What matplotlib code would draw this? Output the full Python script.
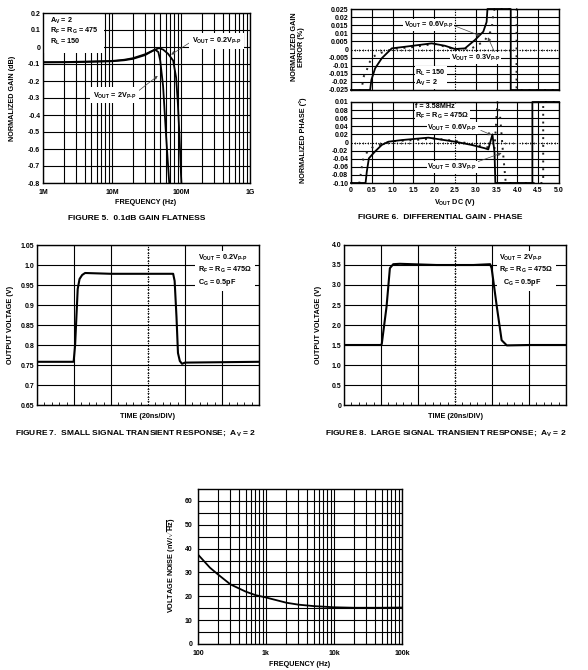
import numpy as np
import matplotlib
matplotlib.use("Agg")
import matplotlib.pyplot as plt
from matplotlib.ticker import FixedLocator, NullFormatter

plt.rcParams['font.family'] = ['Liberation Sans', 'DejaVu Sans']
plt.rcParams['font.weight'] = 'bold'
plt.rcParams['mathtext.fontset'] = 'custom'
plt.rcParams['mathtext.rm'] = 'Liberation Sans:bold'
plt.rcParams['mathtext.it'] = 'Liberation Sans:bold'
plt.rcParams['mathtext.bf'] = 'Liberation Sans:bold'
plt.rcParams['mathtext.sf'] = 'Liberation Sans:bold'

# ---------------- DATA ----------------
# Figure 5: gain flatness
f5_freq_small = [1e6, 2e6, 3e6, 5e6, 1e7, 1.5e7, 2e7, 3e7, 4e7, 4.8e7, 5.5e7, 6.5e7, 7.7e7, 8.5e7, 9e7, 9.5e7, 1.0e8, 1.02e8]
f5_gain_small = [-0.09, -0.09, -0.089, -0.087, -0.084, -0.078, -0.07, -0.048, -0.02, -0.006, -0.015, -0.04, -0.08, -0.18, -0.33, -0.52, -0.75, -0.82]
f5_freq_large = [1e6, 2e6, 3e6, 5e6, 1e7, 1.5e7, 2e7, 3e7, 4.2e7, 4.7e7, 5.0e7, 5.5e7, 6.1e7, 6.7e7, 6.9e7]
f5_gain_large = [-0.09, -0.089, -0.087, -0.085, -0.082, -0.075, -0.066, -0.043, -0.015, -0.03, -0.08, -0.23, -0.53, -0.78, -0.85]
f5_xticks = [1e6, 1e7, 1e8, 1e9]
f5_xlabels = ['1M', '10M', '100M', '1G']
f5_yticks = [0.2, 0.1, 0, -0.1, -0.2, -0.3, -0.4, -0.5, -0.6, -0.7, -0.8]
f5_ylabels = ['0.2', '0.1', '0', '-0.1', '-0.2', '-0.3', '-0.4', '-0.5', '-0.6', '-0.7', '-0.8']

# Figure 6: differential gain / phase
dg_v_06 = [0, 0.46, 0.49, 0.58, 0.74, 0.98, 1.3, 1.94, 2.26, 2.5, 2.74, 2.98, 3.18, 3.26, 3.28, 3.84, 3.84, 5.0]
dg_e_06 = [-0.025, -0.025, -0.0188, -0.0116, -0.0054, 0.0007, 0.0017, 0.0038, 0.0023, 0.0003, 0.0007, 0.0059, 0.011, 0.017, 0.025, 0.025, -0.025, -0.025]
dg_v_03 = [0, 0.24, 0.26, 0.3, 0.38, 0.43, 0.54, 0.66, 1.05, 1.5, 2.0, 2.5, 2.9, 3.2, 3.38, 3.42, 3.45, 3.98, 3.98, 5.0]
dg_e_03 = [-0.025, -0.025, -0.024, -0.017, -0.0127, -0.0085, -0.0044, -0.0025, 0.0005, 0.0015, 0.0035, 0.0002, 0.0007, 0.005, 0.012, 0.022, 0.025, 0.025, -0.025, -0.025]
dp_v_06 = [0, 0.35, 0.38, 0.43, 0.58, 0.74, 0.9, 1.22, 1.86, 2.5, 2.9, 3.21, 3.3, 3.4, 3.45, 3.47, 4.36, 4.36, 5.0]
dp_p_06 = [-0.1, -0.1, -0.072, -0.039, -0.022, -0.006, 0.002, 0.006, 0.012, 0.002, -0.006, -0.014, -0.017, 0.02, -0.025, -0.1, -0.1, 0.1, 0.1]
dp_v_03 = [0, 0.2, 0.22, 0.26, 0.3, 0.38, 0.5, 0.74, 1.0, 1.5, 2.0, 2.5, 2.9, 3.2, 3.45, 3.52, 3.58, 3.65, 3.72, 4.62, 4.62, 5.0]
dp_p_03 = [-0.1, -0.1, -0.088, -0.06, -0.04, -0.025, -0.013, -0.004, 0.003, 0.006, 0.01, 0.004, -0.004, -0.01, -0.015, 0.1, 0.07, -0.02, -0.1, -0.1, 0.1, 0.1]
dg_yticks = [0.025, 0.02, 0.015, 0.01, 0.005, 0, -0.005, -0.01, -0.015, -0.02, -0.025]
dg_ylabels = ['0.025', '0.02', '0.015', '0.01', '0.005', '0', '-0.005', '-0.01', '-0.015', '-0.02', '-0.025']
dp_yticks = [0.1, 0.08, 0.06, 0.04, 0.02, 0, -0.02, -0.04, -0.06, -0.08, -0.1]
dp_ylabels = ['0.01', '0.08', '0.06', '0.04', '0.02', '0', '-0.02', '-0.04', '-0.06', '-0.08', '-0.10']
d_xticks = [0, 0.5, 1.0, 1.5, 2.0, 2.5, 3.0, 3.5, 4.0, 4.5, 5.0]
d_xlabels = ['0', '0.5', '1.0', '1.5', '2.0', '2.5', '3.0', '3.5', '4.0', '4.5', '5.0']

# Figure 7: small signal transient (time in divisions of 20ns)
ss_t = [0, 0.99, 1.03, 1.06, 1.1, 1.15, 1.22, 1.3, 2.0, 3.0, 3.68, 3.72, 3.77, 3.81, 3.86, 3.92, 4.0, 5.0, 6.0]
ss_v = [0.758, 0.758, 0.8, 0.86, 0.94, 0.965, 0.975, 0.98, 0.978, 0.978, 0.978, 0.96, 0.87, 0.78, 0.76, 0.753, 0.756, 0.757, 0.758]
ss_yticks = [1.05, 1.0, 0.95, 0.9, 0.85, 0.8, 0.75, 0.7, 0.65]
ss_ylabels = ['1.05', '1.0', '0.95', '0.9', '0.85', '0.8', '0.75', '0.7', '0.65']

# Figure 8: large signal transient
ls_t = [0, 0.99, 1.02, 1.15, 1.24, 1.33, 1.51, 2.5, 3.5, 3.95, 3.99, 4.13, 4.26, 4.4, 5.0, 6.0]
ls_v = [1.5, 1.5, 1.52, 2.46, 3.42, 3.52, 3.53, 3.5, 3.5, 3.52, 3.42, 2.46, 1.62, 1.49, 1.5, 1.5]
ls_yticks = [4.0, 3.5, 3.0, 2.5, 2.0, 1.5, 1.0, 0.5, 0]
ls_ylabels = ['4.0', '3.5', '3.0', '2.5', '2.0', '1.5', '1.0', '0.5', '0']

# Figure 9: voltage noise
vn_freq = [100, 150, 200, 300, 500, 700, 1000, 2000, 3000, 5000, 10000, 20000, 50000, 100000]
vn_val = [37.5, 32, 29, 25, 22, 20.5, 19.5, 17.3, 16.5, 15.9, 15.4, 15.2, 15.2, 15.3]
vn_xticks = [100, 1000, 10000, 100000]
vn_xlabels = ['100', '1k', '10k', '100k']
vn_yticks = [0, 10, 20, 30, 40, 50, 60]

# ---------------- FIGURE ----------------
W, H = 588, 670
fig = plt.figure(figsize=(W / 100, H / 100), dpi=100)
TFS = 5.0   # tick font size
LFS = 5.2   # axis label font size
CFS = 6.0   # caption font size
AFS = 5.2   # annotation font size
GLW = 0.8
CLW = 1.3


def ax_at(l, t, r, b):
    return fig.add_axes([l / W, 1 - b / H, (r - l) / W, (b - t) / H])


def ftext(x, y, s, **kw):
    kw.setdefault('fontsize', LFS)
    kw.setdefault('fontweight', 'bold')
    fig.text(x / W, 1 - y / H, s, **kw)


def style(ax, xpad=2):
    for sp in ax.spines.values():
        sp.set_linewidth(1.0)
    ax.tick_params(axis='both', which='both', length=0, labelsize=TFS, pad=2)
    ax.tick_params(axis='x', pad=xpad)
    for lab in ax.get_xticklabels() + ax.get_yticklabels():
        lab.set_fontweight('bold')


def vs(main, sub):
    return main + r'$_{\rm ' + sub + '}$'


VPP = r'V$_{\rm P\text{-}P}$'
VOUT = vs('V', 'OUT')
box = dict(facecolor='white', edgecolor='none', pad=0.6)
arrow = dict(arrowstyle='-|>', lw=0.5, color='#444444', mutation_scale=5, shrinkA=0, shrinkB=0)

# ---- Figure 5 ----
ax5 = ax_at(43, 13, 250, 183)
ax5.set_xscale('log')
ax5.set_xlim(1e6, 1e9)
ax5.set_ylim(-0.8, 0.2)
ax5.set_xticks(f5_xticks, f5_xlabels)
minors = [m * d for d in [1e6, 1e7, 1e8] for m in range(2, 10)]
ax5.xaxis.set_minor_locator(FixedLocator(minors))
ax5.xaxis.set_minor_formatter(NullFormatter())
ax5.set_yticks(f5_yticks, f5_ylabels)
ax5.grid(True, which='both', color='black', lw=GLW)
ax5.set_axisbelow(True)
ax5.plot(f5_freq_small, f5_gain_small, color='black', lw=CLW)
ax5.plot(f5_freq_large, f5_gain_large, color='black', lw=CLW)
style(ax5, xpad=4)
ax5.text(1.25e6, 0.185, vs('A', 'V') + ' = 2\n' + vs('R', 'F') + ' = ' + vs('R', 'G') + ' = 475\n' + vs('R', 'L') + ' = 150',
         fontsize=AFS, fontweight='bold', va='top', ha='left', linespacing=1.05, zorder=2.2,
         bbox=dict(facecolor='white', edgecolor='none', boxstyle='square,pad=0.8'))
ax5.annotate('', xy=(7.2e7, -0.045), xytext=(1.45e8, 0.035), arrowprops=arrow)
ax5.text(1.45e8, 0.038, VOUT + ' = 0.2' + VPP, fontsize=AFS, fontweight='bold', ha='left', va='center',
         bbox=dict(facecolor='white', edgecolor='none', boxstyle='square,pad=0.4'))
ax5.annotate('', xy=(4.6e7, -0.17), xytext=(2.3e7, -0.265), arrowprops=arrow)
ax5.text(1.1e7, -0.285, VOUT + ' = 2' + VPP, fontsize=AFS, fontweight='bold', ha='center', va='center',
         bbox=dict(facecolor='white', edgecolor='none', boxstyle='square,pad=0.4'))
ftext(146, 203, 'FREQUENCY (Hz)', ha='center', va='center')
ftext(13, 98, 'NORMALIZED GAIN (dB)', ha='center', va='center', rotation=90)
ftext(137, 219, 'FIGURE 5.  0.1dB GAIN FLATNESS', ha='center', va='center', fontsize=CFS)

# ---- Figure 6 ----
ax6a = ax_at(351, 9, 559, 90)
ax6b = ax_at(351, 102, 559, 183)
for ax, yt, yl, lim in [(ax6a, dg_yticks, dg_ylabels, 0.025), (ax6b, dp_yticks, dp_ylabels, 0.1)]:
    ax.set_xlim(0, 5)
    ax.set_ylim(-lim, lim)
    ax.set_yticks(yt, yl)
    ax.set_xticks(d_xticks, d_xlabels)
    ax.grid(True, color='black', lw=GLW)
    ax.set_axisbelow(True)
    style(ax, xpad=3)
ax6a.tick_params(labelbottom=False)
# dotted centre lines
for ax, lim in [(ax6a, 0.025), (ax6b, 0.1)]:
    for gl in ax.get_xgridlines():
        if abs(gl.get_xdata()[0] - 2.5) < 1e-6:
            gl.set_linestyle((0, (1.2, 1.2)))
    for gl in ax.get_ygridlines():
        if abs(gl.get_ydata()[0]) < 1e-9:
            gl.set_linestyle((0, (1.2, 1.2)))
    ax.plot([2.5] * 11, np.linspace(-lim, lim, 11), ls='none', marker='_', ms=2, mew=0.6, color='black')
    ax.plot(np.linspace(0, 5, 51), [0] * 51, ls='none', marker='|', ms=1.6, mew=0.5, color='black')

ax6a.plot(dg_v_03, dg_e_03, color='#222222', lw=1.4, ls=(0, (1, 3)), clip_on=False)
ax6a.plot(dg_v_06, dg_e_06, color='black', lw=CLW, clip_on=False)
ax6b.plot(dp_v_03, dp_p_03, color='#222222', lw=1.4, ls=(0, (1, 3)), clip_on=False)
ax6b.plot(dp_v_06, dp_p_06, color='black', lw=CLW, clip_on=False)

ax6a.annotate('', xy=(3.1, 0.0085), xytext=(2.5, 0.0145), arrowprops=arrow)
ax6a.text(2.46, 0.0152, VOUT + ' = 0.6' + VPP, fontsize=AFS, fontweight='bold', ha='right', va='center', bbox=box)
ax6a.annotate('', xy=(3.29, 0.0075), xytext=(3.45, -0.0015), arrowprops=arrow)
ax6a.text(3.0, -0.0052, VOUT + ' = 0.3' + VPP, fontsize=AFS, fontweight='bold', ha='center', va='center', bbox=box)
ax6a.text(1.55, -0.0175, vs('R', 'L') + ' = 150\n' + vs('A', 'V') + ' = 2', fontsize=AFS, fontweight='bold',
          ha='left', va='center', linespacing=1.1, bbox=box)
ax6b.text(1.55, 0.075, 'f = 3.58MHz\n' + vs('R', 'F') + ' = ' + vs('R', 'G') + ' = 475Ω', fontsize=AFS, fontweight='bold',
          ha='left', va='center', linespacing=1.1, bbox=box)
ax6b.annotate('', xy=(3.38, 0.0185), xytext=(3.12, 0.03), arrowprops=arrow)
ax6b.text(2.43, 0.036, VOUT + ' = 0.6' + VPP, fontsize=AFS, fontweight='bold', ha='center', va='center', bbox=box)
ax6b.annotate('', xy=(3.62, -0.026), xytext=(2.98, -0.05), arrowprops=arrow)
ax6b.text(2.43, -0.06, VOUT + ' = 0.3' + VPP, fontsize=AFS, fontweight='bold', ha='center', va='center', bbox=box)
ftext(455, 202, VOUT + ' DC (V)', ha='center', va='center')
ftext(298, 47, 'NORMALIZED GAIN\nERROR (%)', ha='center', va='center', rotation=90, linespacing=1.0)
ftext(303, 140, 'NORMALIZED PHASE (°)', ha='center', va='center', rotation=90)
ftext(440, 218, 'FIGURE 6.  DIFFERENTIAL GAIN - PHASE', ha='center', va='center', fontsize=CFS)


# ---- Figures 7 & 8 ----
def transient(ax, t, v, ylim, yt, yl):
    ax.set_xlim(0, 6)
    ax.set_ylim(*ylim)
    ax.set_yticks(yt, yl)
    ax.set_xticks(range(7), [''] * 7)
    ax.xaxis.set_minor_locator(FixedLocator(np.arange(0, 6.01, 0.2)))
    ax.grid(True, which='major', color='black', lw=GLW)
    ax.set_axisbelow(True)
    for gl in ax.get_xgridlines():
        if abs(gl.get_xdata()[0] - 3) < 1e-6:
            gl.set_linestyle((0, (1.2, 1.2)))
    ax.plot([3] * 41, np.linspace(ylim[0], ylim[1], 41), ls='none', marker='_', ms=1.8, mew=0.5, color='black')
    ax.plot(t, v, color='black', lw=1.5)
    style(ax)
    ax.tick_params(axis='x', which='minor', length=2, width=0.6, direction='in')


ax7 = ax_at(37, 245, 259, 405)
transient(ax7, ss_t, ss_v, (0.65, 1.05), ss_yticks, ss_ylabels)
ax7.text(4.35, 1.03, VOUT + ' = 0.2' + VPP + '\n' + vs('R', 'F') + ' = ' + vs('R', 'G') + ' = 475Ω\n' + vs('C', 'G') + ' = 0.5pF',
         fontsize=AFS, fontweight='bold', ha='left', va='top', linespacing=1.25,
         bbox=dict(facecolor='white', edgecolor='none', pad=2))
ftext(148, 416, 'TIME (20ns/DIV)', ha='center', va='center')
ftext(11, 325, 'OUTPUT VOLTAGE (V)', ha='center', va='center', rotation=90)
ftext(136, 433, 'FIGURE 7.  SMALL SIGNAL TRANSIENT RESPONSE;  ' + vs('A', 'V') + ' = 2',
      ha='center', va='center', fontsize=CFS)

ax8 = ax_at(344, 245, 566, 405)
transient(ax8, ls_t, ls_v, (0, 4.0), ls_yticks, ls_ylabels)
ax8.text(4.2, 3.8, VOUT + ' = 2' + VPP + '\n' + vs('R', 'F') + ' = ' + vs('R', 'G') + ' = 475Ω\n  ' + vs('C', 'G') + ' = 0.5pF',
         fontsize=AFS, fontweight='bold', ha='left', va='top', linespacing=1.25,
         bbox=dict(facecolor='white', edgecolor='none', pad=2))
ftext(455, 416, 'TIME (20ns/DIV)', ha='center', va='center')
ftext(318, 325, 'OUTPUT VOLTAGE (V)', ha='center', va='center', rotation=90)
ftext(446, 433, 'FIGURE 8.  LARGE SIGNAL TRANSIENT RESPONSE;  ' + vs('A', 'V') + ' = 2',
      ha='center', va='center', fontsize=CFS)

# ---- Figure 9 ----
ax9 = ax_at(198, 489, 402, 644)
ax9.set_xscale('log')
ax9.set_xlim(100, 100000)
ax9.set_ylim(0, 65)
ax9.set_xticks(vn_xticks, vn_xlabels)
ax9.xaxis.set_minor_locator(FixedLocator([m * d for d in [100, 1000, 10000] for m in range(2, 10)]))
ax9.xaxis.set_minor_formatter(NullFormatter())
ax9.set_yticks(vn_yticks)
ax9.yaxis.set_minor_locator(FixedLocator(np.arange(5, 65, 10)))
ax9.grid(True, which='both', color='black', lw=GLW)
ax9.set_axisbelow(True)
ax9.plot(vn_freq, vn_val, color='black', lw=CLW)
style(ax9, xpad=4)
ax9.tick_params(axis='y', pad=4)
ftext(300, 665, 'FREQUENCY (Hz)', ha='center', va='center')
ftext(172, 565, r'VOLTAGE NOISE (nV/$\sqrt{\rm Hz}$)', ha='center', va='center', rotation=90)

fig.savefig('out.png', dpi=100)
